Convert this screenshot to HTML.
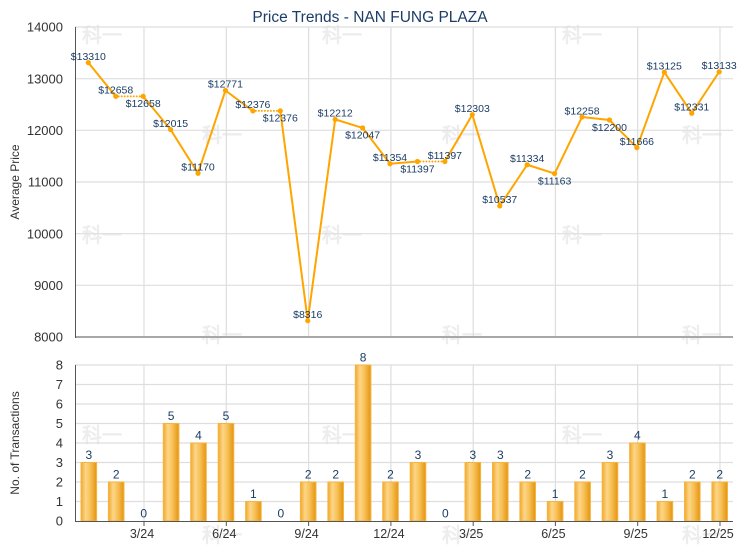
<!DOCTYPE html>
<html>
<head>
<meta charset="utf-8">
<style>
html,body{margin:0;padding:0;background:#fff;}
svg{display:block;}
text{font-family:"Liberation Sans",Arial,sans-serif;}
.wm{font-family:"Noto Serif CJK SC","Noto Sans CJK SC",serif;font-weight:bold;font-size:20px;fill:#ededed;}
.yl{font-size:13px;fill:#333;text-anchor:end;}
.dl{font-size:10.5px;fill:#1b3d66;text-anchor:middle;}
.bl{font-size:12px;fill:#1b3d66;text-anchor:middle;}
.xl{font-size:12.5px;fill:#333;text-anchor:middle;}
</style>
</head>
<body>
<svg width="740" height="550" viewBox="0 0 740 550" xmlns="http://www.w3.org/2000/svg">
<defs>
<linearGradient id="bg" x1="0" y1="0" x2="1" y2="0">
<stop offset="0" stop-color="#f0a92a"/>
<stop offset="0.3" stop-color="#fdd68a"/>
<stop offset="0.6" stop-color="#f7c056"/>
<stop offset="1" stop-color="#e49410"/>
</linearGradient>
</defs>
<rect width="740" height="550" fill="#fff"/>

<!-- watermarks -->
<g class="wm">
<text x="82" y="42">科一</text><text x="322" y="42">科一</text><text x="562" y="42">科一</text>
<text x="202" y="142">科一</text><text x="442" y="142">科一</text><text x="682" y="142">科一</text>
<text x="82" y="242">科一</text><text x="322" y="242">科一</text><text x="562" y="242">科一</text>
<text x="202" y="342">科一</text><text x="442" y="342">科一</text><text x="682" y="342">科一</text>
<text x="82" y="442">科一</text><text x="322" y="442">科一</text><text x="562" y="442">科一</text>
<text x="202" y="542">科一</text><text x="442" y="542">科一</text><text x="682" y="542">科一</text>
</g>

<!-- Title -->
<text x="370" y="22" text-anchor="middle" font-size="15.5" fill="#1b3d66">Price Trends - NAN FUNG PLAZA</text>

<!-- ===== Top chart ===== -->
<g stroke="#dedede" stroke-width="1.2">
<line x1="75" y1="27" x2="733" y2="27"/>
<line x1="75" y1="78.67" x2="733" y2="78.67"/>
<line x1="75" y1="130.33" x2="733" y2="130.33"/>
<line x1="75" y1="182" x2="733" y2="182"/>
<line x1="75" y1="233.67" x2="733" y2="233.67"/>
<line x1="75" y1="285.33" x2="733" y2="285.33"/>
<line x1="144" y1="27" x2="144" y2="337"/>
<line x1="226.3" y1="27" x2="226.3" y2="337"/>
<line x1="308.6" y1="27" x2="308.6" y2="337"/>
<line x1="390.9" y1="27" x2="390.9" y2="337"/>
<line x1="473.2" y1="27" x2="473.2" y2="337"/>
<line x1="555.4" y1="27" x2="555.4" y2="337"/>
<line x1="637.7" y1="27" x2="637.7" y2="337"/>
<line x1="720" y1="27" x2="720" y2="337"/>
</g>
<line x1="75" y1="337" x2="733" y2="337" stroke="#a8a8a8" stroke-width="2"/>
<line x1="75.5" y1="27" x2="75.5" y2="338" stroke="#555" stroke-width="1"/>

<g class="yl">
<text x="63" y="31.6">14000</text>
<text x="63" y="83.3">13000</text>
<text x="63" y="134.9">12000</text>
<text x="63" y="186.6">11000</text>
<text x="63" y="238.3">10000</text>
<text x="63" y="289.9">9000</text>
<text x="63" y="341.6">8000</text>
</g>
<text transform="translate(19,182) rotate(-90)" text-anchor="middle" font-size="12" fill="#333">Average Price</text>

<!-- line segments -->
<g fill="none" stroke="#FFA500" stroke-width="2" stroke-linejoin="round">
<polyline points="88.3,62.65 115.73,96.34"/>
<polyline points="143.16,96.34 170.59,129.57 198.02,173.23 225.45,90.5 252.88,110.91"/>
<polyline points="280.31,110.91 307.74,320.69 335.17,119.39 362.6,127.91 390.03,163.72 417.46,161.5"/>
<polyline points="444.89,161.5 472.32,114.68 499.75,205.93 527.18,164.75 554.61,173.59 582.04,117.01 609.47,120.01 636.9,147.6 664.33,72.21 691.76,113.24 719.19,71.8"/>
</g>
<g fill="none" stroke="#FFA500" stroke-width="2" stroke-linecap="round" stroke-dasharray="0 3">
<line x1="115.73" y1="96.34" x2="143.16" y2="96.34"/>
<line x1="252.88" y1="110.91" x2="280.31" y2="110.91"/>
<line x1="417.46" y1="161.5" x2="444.89" y2="161.5"/>
</g>
<g fill="#FFA500">
<circle cx="88.3" cy="62.65" r="2.6"/><circle cx="115.73" cy="96.34" r="2.6"/><circle cx="143.16" cy="96.34" r="2.6"/>
<circle cx="170.59" cy="129.57" r="2.6"/><circle cx="198.02" cy="173.23" r="2.6"/><circle cx="225.45" cy="90.5" r="2.6"/>
<circle cx="252.88" cy="110.91" r="2.6"/><circle cx="280.31" cy="110.91" r="2.6"/><circle cx="307.74" cy="320.69" r="2.6"/>
<circle cx="335.17" cy="119.39" r="2.6"/><circle cx="362.6" cy="127.91" r="2.6"/><circle cx="390.03" cy="163.72" r="2.6"/>
<circle cx="417.46" cy="161.5" r="2.6"/><circle cx="444.89" cy="161.5" r="2.6"/><circle cx="472.32" cy="114.68" r="2.6"/>
<circle cx="499.75" cy="205.93" r="2.6"/><circle cx="527.18" cy="164.75" r="2.6"/><circle cx="554.61" cy="173.59" r="2.6"/>
<circle cx="582.04" cy="117.01" r="2.6"/><circle cx="609.47" cy="120.01" r="2.6"/><circle cx="636.9" cy="147.6" r="2.6"/>
<circle cx="664.33" cy="72.21" r="2.6"/><circle cx="691.76" cy="113.24" r="2.6"/><circle cx="719.19" cy="71.8" r="2.6"/>
</g>
<g class="dl">
<text x="88.3" y="59.9">$13310</text>
<text x="115.73" y="93.6">$12658</text>
<text x="143.16" y="107.1">$12658</text>
<text x="170.59" y="126.8">$12015</text>
<text x="198.02" y="170.5">$11170</text>
<text x="225.45" y="87.7">$12771</text>
<text x="252.88" y="108.2">$12376</text>
<text x="280.31" y="121.7">$12376</text>
<text x="307.74" y="317.9">$8316</text>
<text x="335.17" y="116.6">$12212</text>
<text x="362.6" y="138.7">$12047</text>
<text x="390.03" y="161">$11354</text>
<text x="417.46" y="172.3">$11397</text>
<text x="444.89" y="158.8">$11397</text>
<text x="472.32" y="111.9">$12303</text>
<text x="499.75" y="203.2">$10537</text>
<text x="527.18" y="162">$11334</text>
<text x="554.61" y="184.3">$11163</text>
<text x="582.04" y="114.3">$12258</text>
<text x="609.47" y="130.8">$12200</text>
<text x="636.9" y="144.9">$11666</text>
<text x="664.33" y="69.5">$13125</text>
<text x="691.76" y="110.5">$12331</text>
<text x="719.19" y="69.1">$13133</text>
</g>

<!-- ===== Bottom chart ===== -->
<g stroke="#dedede" stroke-width="1.2">
<line x1="75" y1="365" x2="733" y2="365"/>
<line x1="75" y1="384.5" x2="733" y2="384.5"/>
<line x1="75" y1="404" x2="733" y2="404"/>
<line x1="75" y1="423.5" x2="733" y2="423.5"/>
<line x1="75" y1="443" x2="733" y2="443"/>
<line x1="75" y1="462.5" x2="733" y2="462.5"/>
<line x1="75" y1="482" x2="733" y2="482"/>
<line x1="75" y1="501.5" x2="733" y2="501.5"/>
<line x1="144" y1="365" x2="144" y2="521"/>
<line x1="226.3" y1="365" x2="226.3" y2="521"/>
<line x1="308.6" y1="365" x2="308.6" y2="521"/>
<line x1="390.9" y1="365" x2="390.9" y2="521"/>
<line x1="473.2" y1="365" x2="473.2" y2="521"/>
<line x1="555.4" y1="365" x2="555.4" y2="521"/>
<line x1="637.7" y1="365" x2="637.7" y2="521"/>
<line x1="720" y1="365" x2="720" y2="521"/>
</g>

<g fill="url(#bg)" stroke="#f6b440" stroke-width="1">
<rect x="81" y="462.5" width="15.6" height="58.5"/>
<rect x="108.4" y="482" width="15.6" height="39"/>
<rect x="163.3" y="423.5" width="15.6" height="97.5"/>
<rect x="190.7" y="443" width="15.6" height="78"/>
<rect x="218.2" y="423.5" width="15.6" height="97.5"/>
<rect x="245.6" y="501.5" width="15.6" height="19.5"/>
<rect x="300.4" y="482" width="15.6" height="39"/>
<rect x="327.9" y="482" width="15.6" height="39"/>
<rect x="355.3" y="365" width="15.6" height="156"/>
<rect x="382.7" y="482" width="15.6" height="39"/>
<rect x="410.2" y="462.5" width="15.6" height="58.5"/>
<rect x="465" y="462.5" width="15.6" height="58.5"/>
<rect x="492.5" y="462.5" width="15.6" height="58.5"/>
<rect x="519.9" y="482" width="15.6" height="39"/>
<rect x="547.3" y="501.5" width="15.6" height="19.5"/>
<rect x="574.8" y="482" width="15.6" height="39"/>
<rect x="602.2" y="462.5" width="15.6" height="58.5"/>
<rect x="629.6" y="443" width="15.6" height="78"/>
<rect x="657.1" y="501.5" width="15.6" height="19.5"/>
<rect x="684.5" y="482" width="15.6" height="39"/>
<rect x="711.9" y="482" width="15.6" height="39"/>
</g>

<line x1="75" y1="521.5" x2="733" y2="521.5" stroke="#555" stroke-width="1"/>
<line x1="75.5" y1="365" x2="75.5" y2="522" stroke="#555" stroke-width="1"/>
<g stroke="#555" stroke-width="1">
<line x1="144" y1="521" x2="144" y2="526"/>
<line x1="226.3" y1="521" x2="226.3" y2="526"/>
<line x1="308.6" y1="521" x2="308.6" y2="526"/>
<line x1="390.9" y1="521" x2="390.9" y2="526"/>
<line x1="473.2" y1="521" x2="473.2" y2="526"/>
<line x1="555.4" y1="521" x2="555.4" y2="526"/>
<line x1="637.7" y1="521" x2="637.7" y2="526"/>
<line x1="720" y1="521" x2="720" y2="526"/>
</g>

<g class="bl">
<text x="88.8" y="458.8">3</text>
<text x="116.2" y="478.3">2</text>
<text x="143.7" y="517.3">0</text>
<text x="171.1" y="419.8">5</text>
<text x="198.5" y="439.3">4</text>
<text x="226" y="419.8">5</text>
<text x="253.4" y="497.8">1</text>
<text x="280.8" y="517.3">0</text>
<text x="308.2" y="478.3">2</text>
<text x="335.7" y="478.3">2</text>
<text x="363.1" y="361.3">8</text>
<text x="390.5" y="478.3">2</text>
<text x="418" y="458.8">3</text>
<text x="445.4" y="517.3">0</text>
<text x="472.8" y="458.8">3</text>
<text x="500.3" y="458.8">3</text>
<text x="527.7" y="478.3">2</text>
<text x="555.1" y="497.8">1</text>
<text x="582.5" y="478.3">2</text>
<text x="610" y="458.8">3</text>
<text x="637.4" y="439.3">4</text>
<text x="664.8" y="497.8">1</text>
<text x="692.3" y="478.3">2</text>
<text x="719.7" y="478.3">2</text>
</g>

<g class="yl">
<text x="63" y="369.6">8</text>
<text x="63" y="389.1">7</text>
<text x="63" y="408.6">6</text>
<text x="63" y="428.1">5</text>
<text x="63" y="447.6">4</text>
<text x="63" y="467.1">3</text>
<text x="63" y="486.6">2</text>
<text x="63" y="506.1">1</text>
<text x="63" y="525.6">0</text>
</g>
<text transform="translate(19,443) rotate(-90)" text-anchor="middle" font-size="12" fill="#333">No. of Transactions</text>

<g class="xl">
<text x="142" y="538">3/24</text>
<text x="224.3" y="538">6/24</text>
<text x="306.6" y="538">9/24</text>
<text x="388.9" y="538">12/24</text>
<text x="471.2" y="538">3/25</text>
<text x="553.4" y="538">6/25</text>
<text x="635.7" y="538">9/25</text>
<text x="718" y="538">12/25</text>
</g>
</svg>
</body>
</html>
